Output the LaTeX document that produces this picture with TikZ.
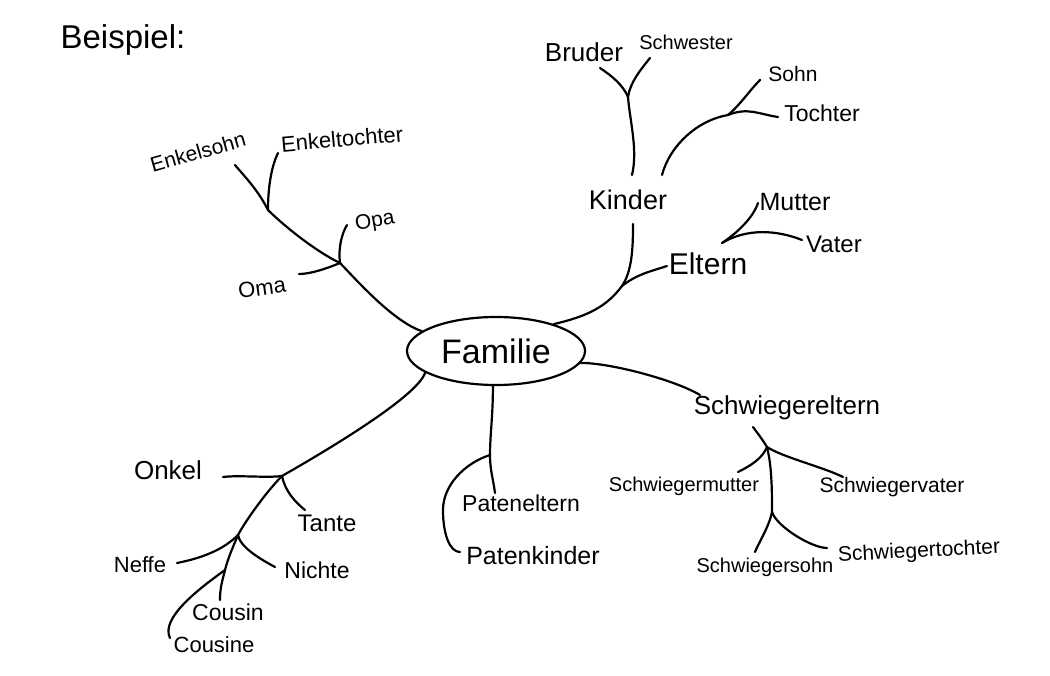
\documentclass[tikz,border=0pt]{standalone}
\usepackage{fontspec}
\setmainfont{Liberation Sans}
\usetikzlibrary{shapes.geometric}
\begin{document}
\begin{tikzpicture}[x=1pt,y=-1pt,
  lab/.style={font=\fontsize{#1pt}{#1pt}\selectfont, inner sep=0pt, text=black},
  lab/.default=22,
  conn/.style={draw=black, line width=2.2pt, line cap=round, line join=round},
  centre/.style={draw=black, line width=2.2pt, ellipse, minimum width=178pt, minimum height=68pt, inner sep=0pt, font=\fontsize{34pt}{34pt}\selectfont}]
\fill[white] (0,0) rectangle (1050,675);
\useasboundingbox (0,0) rectangle (1050,675);

% centre
\node[centre] (F) at (496,351) {Familie};

% texts
\node[lab=33] (beispiel) at (123,40) {Beispiel:};
\node[lab=26] (bruder) at (584,52) {Bruder};
\node[lab=20] (schwester) at (686,42) {Schwester};
\node[lab=21] (sohn) at (793,74) {Sohn};
\node[lab=23] (tochter) at (822,113) {Tochter};
\node[lab=27] (kinder) at (628,200) {Kinder};
\node[lab=25] (mutter) at (795,202) {Mutter};
\node[lab=24] (vater) at (834,244) {Vater};
\node[lab=30] (eltern) at (708,264) {Eltern};
\node[lab=21, rotate=16] (enkelsohn) at (198,152) {Enkelsohn};
\node[lab=22, rotate=5] (enkeltochter) at (342,139) {Enkeltochter};
\node[lab=21, rotate=10] (opa) at (375,222) {Opa};
\node[lab=22, rotate=8] (oma) at (262,288) {Oma};
\node[lab=23] (pateneltern) at (521,503) {Pateneltern};
\node[lab=25] (patenkinder) at (533,556) {Patenkinder};
\node[lab=26] (schwiegereltern) at (787,408) {Schwiegereltern};
\node[lab=20] (schwiegermutter) at (684,486) {Schwiegermutter};
\node[lab=21] (schwiegervater) at (892,487) {Schwiegervater};
\node[lab=20] (schwiegersohn) at (765,567) {Schwiegersohn};
\node[lab=21, rotate=3] (schwiegertochter) at (919,552) {Schwiegertochter};
\node[lab=26] (onkel) at (168,470) {Onkel};
\node[lab=24] (tante) at (327,523) {Tante};
\node[lab=22] (neffe) at (140,565) {Neffe};
\node[lab=23] (nichte) at (317,570) {Nichte};
\node[lab=23] (cousin) at (228,612) {Cousin};
\node[lab=22] (cousine) at (214,645) {Cousine};

% junctions and line ends
\coordinate (jE) at (622,286);
\coordinate (kb) at (633,224);
\coordinate (ew) at (667,266);
\coordinate (kt) at (632,175);
\coordinate (jBS) at (628,97);
\coordinate (br) at (600,68);
\coordinate (sw) at (650,58);
\coordinate (ks) at (662,175);
\coordinate (jST) at (728,115);
\coordinate (so) at (760,80);
\coordinate (to) at (778,117);
\coordinate (jMV) at (722,243);
\coordinate (mu) at (758,203);
\coordinate (va) at (802,240);
\coordinate (jOO) at (340,263);
\coordinate (jEn) at (268,210);
\coordinate (es) at (235,165);
\coordinate (et) at (278,153);
\coordinate (op) at (347,225);
\coordinate (om) at (299,274);
\coordinate (jOT) at (282,476);
\coordinate (jNN) at (238,535);
\coordinate (jCC) at (225,570);
\coordinate (cs) at (220,600);
\coordinate (ce) at (170,638);
\coordinate (on) at (223,477);
\coordinate (ta) at (305,510);
\coordinate (ne) at (177,563);
\coordinate (ni) at (275,567);
\coordinate (jP) at (490,455);
\coordinate (pe) at (495,493);
\coordinate (pq) at (443,510);
\coordinate (pk) at (460,552);
\coordinate (sk) at (700,395);
\coordinate (st) at (753,427);
\coordinate (jSW) at (767,447);
\coordinate (smu) at (738,472);
\coordinate (sva) at (843,477);
\coordinate (jSST) at (772,512);
\coordinate (sso) at (755,552);
\coordinate (sto) at (827,548);

% Kinder / Eltern
\draw[conn] (F.25) .. controls +(35,-8) and +(-15,20) .. (jE) .. controls +(10,-15) and +(0,25) .. (kb);
\draw[conn] (jE) .. controls +(15,-12) and +(-15,5) .. (ew);
\draw[conn] (kt) .. controls +(6,-25) and +(2,25) .. (jBS);
\draw[conn] (jBS) .. controls +(-5,-12) and +(12,8) .. (br);
\draw[conn] (jBS) .. controls +(2,-15) and +(-8,10) .. (sw);
\draw[conn] (ks) .. controls +(8,-30) and +(-30,5) .. (jST);
\draw[conn] (jST) .. controls +(12,-10) and +(-10,10) .. (so);
\draw[conn] (jST) .. controls +(20,-8) and +(-20,-3) .. (to);
\draw[conn] (jMV) .. controls +(15,-10) and +(-5,15) .. (mu);
\draw[conn] (jMV) .. controls +(25,-15) and +(-25,-10) .. (va);

% Grosseltern / Enkel
\draw[conn] (F.165) .. controls +(-30,-10) and +(12,12) .. (jOO) .. controls +(-25,-12) and +(15,15) .. (jEn) .. controls +(-10,-20) and +(10,12) .. (es);
\draw[conn] (jEn) .. controls +(0,-25) and +(-6,12) .. (et);
\draw[conn] (jOO) .. controls +(-2,-15) and +(-5,8) .. (op);
\draw[conn] (jOO) .. controls +(-12,5) and +(12,0) .. (om);

% Onkel / Tante / ...
\draw[conn] (F.197) .. controls +(-8,25) and +(35,-20) .. (jOT) .. controls +(-15,15) and +(8,-15) .. (jNN) .. controls +(-5,12) and +(3,-12) .. (jCC) .. controls +(-3,12) and +(0,-12) .. (cs);
\draw[conn] (jCC) .. controls +(-25,18) and +(-10,-20) .. (ce);
\draw[conn] (jOT) .. controls +(-15,2) and +(15,-2) .. (on);
\draw[conn] (jOT) .. controls +(3,15) and +(-10,-8) .. (ta);
\draw[conn] (jNN) .. controls +(-15,15) and +(25,-5) .. (ne);
\draw[conn] (jNN) .. controls +(2,12) and +(-15,-8) .. (ni);

% Paten
\draw[conn] (F.265) .. controls +(0,30) and +(0,-20) .. (jP) .. controls +(0,15) and +(-2,-15) .. (pe);
\draw[conn] (jP) .. controls +(-25,8) and +(0,-25) .. (pq) .. controls +(0,25) and +(-10,0) .. (pk);

% Schwiegereltern
\draw[conn] (F.352) .. controls +(30,0) and +(-25,-15) .. (sk);
\draw[conn] (st) .. controls +(6,8) and +(-5,-8) .. (jSW);
\draw[conn] (jSW) .. controls +(-5,12) and +(12,-6) .. (smu);
\draw[conn] (jSW) .. controls +(15,10) and +(-20,-10) .. (sva);
\draw[conn] (jSW) .. controls +(5,20) and +(0,-20) .. (jSST);
\draw[conn] (jSST) .. controls +(-3,15) and +(3,-8) .. (sso);
\draw[conn] (jSST) .. controls +(5,15) and +(-15,0) .. (sto);
\end{tikzpicture}
\end{document}
